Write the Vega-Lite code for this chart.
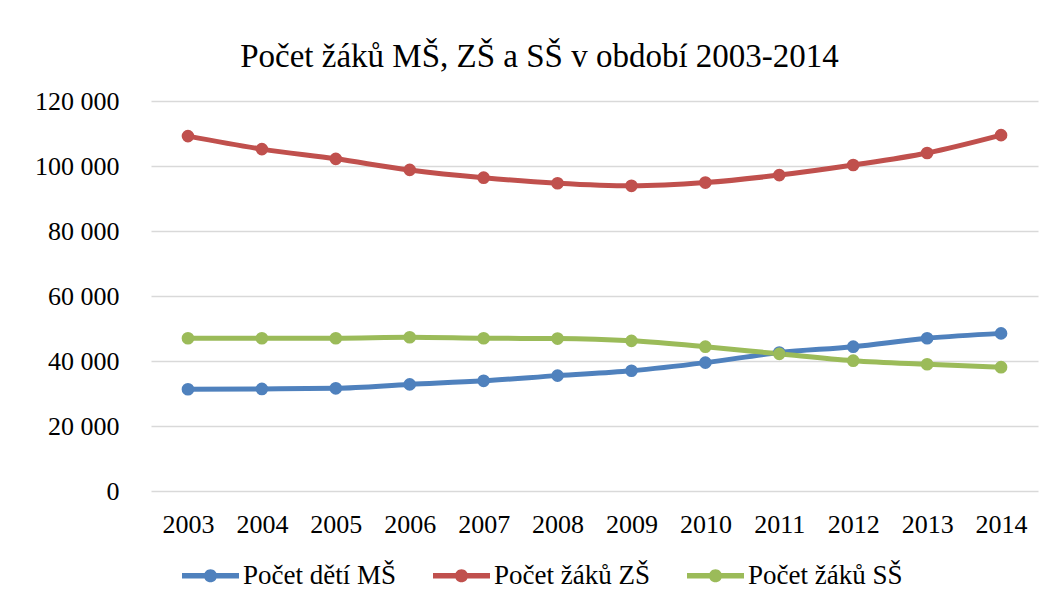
{
  "$schema": "https://vega.github.io/schema/vega-lite/v6.json",
  "autosize": {"type": "none"},
  "width": 887,
  "height": 390,
  "padding": {"left": 151, "top": 101, "right": 16, "bottom": 116},
  "background": "white",
  "config": {
    "view": {"stroke": null},
    "font": "Liberation Serif"
  },
  "title": {
    "text": "Počet žáků MŠ, ZŠ a SŠ v období 2003-2014",
    "font": "Liberation Serif",
    "fontSize": 33,
    "fontWeight": "normal",
    "color": "#000000",
    "anchor": "middle",
    "dx": -55,
    "baseline": "alphabetic",
    "offset": -12
  },
  "data": {
    "values": [
      {"rok": "2003", "serie": "Počet dětí MŠ", "pocet": 31300},
      {"rok": "2004", "serie": "Počet dětí MŠ", "pocet": 31400},
      {"rok": "2005", "serie": "Počet dětí MŠ", "pocet": 31600},
      {"rok": "2006", "serie": "Počet dětí MŠ", "pocet": 32800},
      {"rok": "2007", "serie": "Počet dětí MŠ", "pocet": 33900},
      {"rok": "2008", "serie": "Počet dětí MŠ", "pocet": 35500},
      {"rok": "2009", "serie": "Počet dětí MŠ", "pocet": 37000},
      {"rok": "2010", "serie": "Počet dětí MŠ", "pocet": 39500},
      {"rok": "2011", "serie": "Počet dětí MŠ", "pocet": 42600},
      {"rok": "2012", "serie": "Počet dětí MŠ", "pocet": 44400},
      {"rok": "2013", "serie": "Počet dětí MŠ", "pocet": 47000},
      {"rok": "2014", "serie": "Počet dětí MŠ", "pocet": 48500},
      {"rok": "2003", "serie": "Počet žáků ZŠ", "pocet": 109200},
      {"rok": "2004", "serie": "Počet žáků ZŠ", "pocet": 105200},
      {"rok": "2005", "serie": "Počet žáků ZŠ", "pocet": 102200},
      {"rok": "2006", "serie": "Počet žáků ZŠ", "pocet": 98800},
      {"rok": "2007", "serie": "Počet žáků ZŠ", "pocet": 96400},
      {"rok": "2008", "serie": "Počet žáků ZŠ", "pocet": 94700},
      {"rok": "2009", "serie": "Počet žáků ZŠ", "pocet": 93900},
      {"rok": "2010", "serie": "Počet žáků ZŠ", "pocet": 94900},
      {"rok": "2011", "serie": "Počet žáků ZŠ", "pocet": 97200},
      {"rok": "2012", "serie": "Počet žáků ZŠ", "pocet": 100300},
      {"rok": "2013", "serie": "Počet žáků ZŠ", "pocet": 104000},
      {"rok": "2014", "serie": "Počet žáků ZŠ", "pocet": 109500},
      {"rok": "2003", "serie": "Počet žáků SŠ", "pocet": 47000},
      {"rok": "2004", "serie": "Počet žáků SŠ", "pocet": 47000},
      {"rok": "2005", "serie": "Počet žáků SŠ", "pocet": 47000},
      {"rok": "2006", "serie": "Počet žáků SŠ", "pocet": 47300},
      {"rok": "2007", "serie": "Počet žáků SŠ", "pocet": 47000},
      {"rok": "2008", "serie": "Počet žáků SŠ", "pocet": 46900},
      {"rok": "2009", "serie": "Počet žáků SŠ", "pocet": 46200},
      {"rok": "2010", "serie": "Počet žáků SŠ", "pocet": 44400},
      {"rok": "2011", "serie": "Počet žáků SŠ", "pocet": 42200},
      {"rok": "2012", "serie": "Počet žáků SŠ", "pocet": 40100},
      {"rok": "2013", "serie": "Počet žáků SŠ", "pocet": 39000},
      {"rok": "2014", "serie": "Počet žáků SŠ", "pocet": 38100}
    ]
  },
  "mark": {
    "type": "line",
    "interpolate": "monotone",
    "strokeWidth": 5,
    "point": {"filled": true, "size": 160, "opacity": 1}
  },
  "encoding": {
    "x": {
      "field": "rok",
      "type": "ordinal",
      "title": null,
      "axis": {
        "labelAngle": 0,
        "labelFont": "Liberation Serif",
        "labelFontSize": 26,
        "labelColor": "#000000",
        "labelPadding": 20,
        "ticks": false,
        "domain": false,
        "grid": false
      }
    },
    "y": {
      "field": "pocet",
      "type": "quantitative",
      "title": null,
      "scale": {"domain": [0, 120000], "nice": false},
      "axis": {
        "values": [0, 20000, 40000, 60000, 80000, 100000, 120000],
        "labelExpr": "replace(format(datum.value, ','), ',', ' ')",
        "labelFont": "Liberation Serif",
        "labelFontSize": 26,
        "labelColor": "#000000",
        "labelPadding": 32,
        "ticks": false,
        "domain": false,
        "grid": true,
        "gridColor": "#d9d9d9",
        "gridWidth": 1.5
      }
    },
    "color": {
      "field": "serie",
      "type": "nominal",
      "scale": {
        "domain": ["Počet dětí MŠ", "Počet žáků ZŠ", "Počet žáků SŠ"],
        "range": ["#4F81BD", "#C0504D", "#9BBB59"]
      },
      "legend": {
        "title": null,
        "orient": "none",
        "direction": "horizontal",
        "legendX": 31,
        "legendY": 446,
        "padding": 0,
        "symbolType": "M-1,-0.1 L1,-0.1 L1,0.1 L-1,0.1 Z M-0.23,0 A0.23,0.23 0 1,1 0.23,0 A0.23,0.23 0 1,1 -0.23,0 Z",
        "symbolSize": 3249,
        "symbolStrokeWidth": 0,
        "labelFont": "Liberation Serif",
        "labelFontSize": 27,
        "labelColor": "#000000",
        "labelOffset": 4,
        "columnPadding": 37,
        "labelLimit": 400,
        "encode": {
          "symbols": {
            "update": {
              "fill": {"scale": "color", "field": "value"},
              "opacity": {"value": 1}
            }
          }
        }
      }
    }
  }
}
